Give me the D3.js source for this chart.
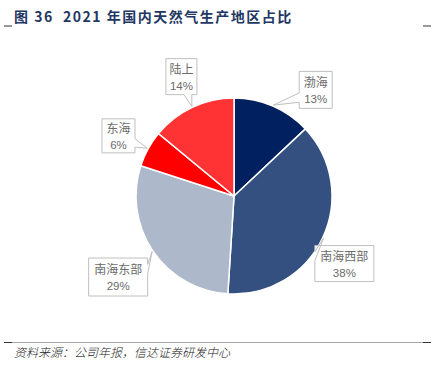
<!DOCTYPE html>
<html>
<head>
<meta charset="utf-8">
<script src="https://cdn.jsdelivr.net/npm/d3@7"></script>
<style>
  html, body { margin: 0; padding: 0; background: #fff; }
  svg { display: block; }
</style>
</head>
<body>
<div id="chart"></div>
<script>
// data
const regions = ["渤海", "南海西部", "南海东部", "东海", "陆上"];
const shares = [13, 38, 29, 6, 14];
const colors = ["#002060", "#335080", "#adb9ca", "#ff0000", "#ff3333"];

// label box layout (nudges from label arc, tail side)
const labelLayout = {
  "渤海": { dx: 28, dy: 18, w: 33, h: 37, side: "left" },
  "南海西部": { dx: -12, dy: 10, w: 59, h: 36, side: "left" },
  "南海东部": { dx: -4, dy: 5, w: 59, h: 38, side: "right" },
  "东海": { dx: 3, dy: 5, w: 33, h: 34, side: "right" },
  "陆上": { dx: 5, dy: 3, w: 31, h: 36, side: "bottom" }
};

const width = 436;
const height = 366;
const cx = 234;
const cy = 196;
const radius = 98;

const svg = d3.select("#chart")
  .append("svg")
  .attr("width", width)
  .attr("height", height);

// title
svg.append("text")
  .attr("x", 14)
  .attr("y", 22)
  .attr("fill", "#1f3763")
  .style("font-family", "'Noto Sans CJK SC', 'Liberation Sans', sans-serif")
  .style("font-weight", "bold")
  .style("font-size", "14px")
  .style("letter-spacing", "1.5px")
  .style("white-space", "pre")
  .text("图 36  2021 年国内天然气生产地区占比");

// small corner ticks
[[4, 26], [423, 26]].forEach(([x, y]) => {
  svg.append("line")
    .attr("x1", x).attr("x2", x + 8)
    .attr("y1", y).attr("y2", y)
    .attr("stroke", "#333").attr("stroke-width", 1);
});

// footer rule
svg.append("line")
  .attr("x1", 4).attr("x2", 431)
  .attr("y1", 342.5).attr("y2", 342.5)
  .attr("stroke", "#a6a6a6").attr("stroke-width", 1);
[4, 423].forEach((x) => {
  svg.append("line")
    .attr("x1", x).attr("x2", x + 8)
    .attr("y1", 342.5).attr("y2", 342.5)
    .attr("stroke", "#333").attr("stroke-width", 1);
});

svg.append("text")
  .attr("x", 14)
  .attr("y", 357)
  .attr("fill", "#222")
  .style("font-family", "'Noto Sans CJK SC', sans-serif")
  .style("font-style", "italic")
  .style("font-weight", "300")
  .style("font-size", "12px")
  .text("资料来源：公司年报，信达证券研发中心");

// pie
const table = regions.map((r, i) => ({ name: r, value: shares[i], color: colors[i] }));

const pie = d3.pie()
  .sort(null)
  .value((d) => d.value);
const arcs = pie(table);

const arc = d3.arc()
  .innerRadius(0)
  .outerRadius(radius);

const g = svg.append("g")
  .attr("transform", `translate(${cx}, ${cy})`);

g.selectAll("path")
  .data(arcs)
  .enter()
  .append("path")
  .attr("d", arc)
  .attr("fill", (d) => d.data.color)
  .attr("stroke", "#fff")
  .style("stroke-width", "1.5px");

// callout labels
const labelArc = d3.arc()
  .innerRadius(radius * 1.38)
  .outerRadius(radius * 1.38);
const tipArc = d3.arc()
  .innerRadius(radius + 1)
  .outerRadius(radius + 1);

function calloutPath(x0, y0, w, h, tip, side) {
  const x1 = x0 + w, y1 = y0 + h;
  const [tx, ty] = tip;
  const mx = x0 + w / 2, my = y0 + h / 2;
  let p;
  if (side === "left" || side === "right") {
    const a = ty > my ? [7 / 12, 10 / 12] : [2 / 12, 5 / 12];
    const ya = y0 + h * a[0], yb = y0 + h * a[1];
    if (side === "left") {
      p = `M${x0},${y0}L${x1},${y0}L${x1},${y1}L${x0},${y1}L${x0},${yb}L${tx},${ty}L${x0},${ya}Z`;
    } else {
      p = `M${x0},${y0}L${x1},${y0}L${x1},${ya}L${tx},${ty}L${x1},${yb}L${x1},${y1}L${x0},${y1}Z`;
    }
  } else {
    const a = tx > mx ? [7 / 12, 10 / 12] : [2 / 12, 5 / 12];
    const xa = x0 + w * a[0], xb = x0 + w * a[1];
    if (side === "bottom") {
      p = `M${x0},${y0}L${x1},${y0}L${x1},${y1}L${xb},${y1}L${tx},${ty}L${xa},${y1}L${x0},${y1}Z`;
    } else {
      p = `M${x0},${y0}L${xa},${y0}L${tx},${ty}L${xb},${y0}L${x1},${y0}L${x1},${y1}L${x0},${y1}Z`;
    }
  }
  return p;
}

const labels = g.selectAll(".pie-label")
  .data(arcs)
  .enter()
  .append("g")
  .attr("class", "pie-label");

labels.each(function (d) {
  const lay = labelLayout[d.data.name];
  const [lx, ly] = labelArc.centroid(d);
  const bx = lx + lay.dx - lay.w / 2;
  const by = ly + lay.dy - lay.h / 2;
  const tip = tipArc.centroid(d);
  const el = d3.select(this);

  el.append("path")
    .attr("d", calloutPath(bx, by, lay.w, lay.h, tip, lay.side))
    .attr("fill", "#fff")
    .attr("stroke", "#bfbfbf")
    .attr("stroke-width", 1);

  const tx = bx + lay.w / 2;
  const ty = by + lay.h / 2;
  el.append("text")
    .attr("x", tx)
    .attr("y", ty - 3)
    .attr("text-anchor", "middle")
    .attr("fill", "#6b6b6b")
    .style("font-family", "'Noto Sans CJK SC', sans-serif")
    .style("font-size", "12px")
    .text(d.data.name);
  el.append("text")
    .attr("x", tx)
    .attr("y", ty + 13)
    .attr("text-anchor", "middle")
    .attr("fill", "#6b6b6b")
    .style("font-family", "'Liberation Sans', 'Noto Sans', sans-serif")
    .style("font-size", "11.5px")
    .text(`${d.data.value}%`);
});
</script>
</body>
</html>
